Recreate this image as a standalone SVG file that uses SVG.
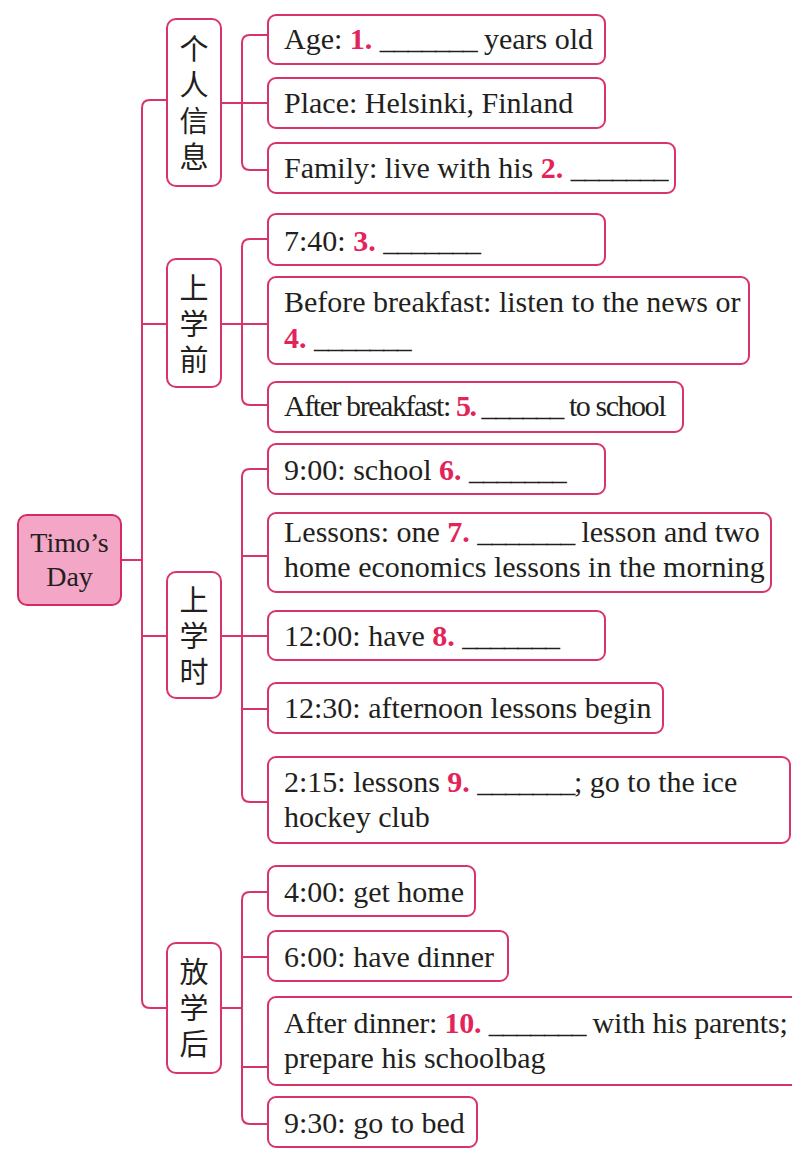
<svg xmlns="http://www.w3.org/2000/svg" width="792" height="1160" viewBox="0 0 792 1160">
<style>
  .ln{fill:none;stroke:#d8336b;stroke-width:2}
  .box{fill:#fff;stroke:#d8336b;stroke-width:2}
  .cat{fill:#fff;stroke:#d8336b;stroke-width:2}
  .root{fill:#f3a6c6;stroke:#d42c62;stroke-width:2}
  .t{font-family:"Liberation Serif","Times New Roman",serif;font-size:30px;fill:#231f20}
  .rt{font-family:"Liberation Serif","Times New Roman",serif;font-size:28px;fill:#231f20;text-anchor:middle}
  .n{font-weight:bold;fill:#e3245a}
  .b{letter-spacing:-1.2px}
  .tight{letter-spacing:-1.45px}
  .c{font-family:"Noto Sans CJK SC","Noto Sans CJK JP",sans-serif;font-size:29px;fill:#231f20;text-anchor:middle;writing-mode:vertical-rl;letter-spacing:7px}
</style>
<rect width="792" height="1160" fill="#fff"/>
<g id="connectors">
  <path class="ln" d="M167,100 H150 Q142,100 142,108 V1000 Q142,1008 150,1008 H167"/>
  <path class="ln" d="M121,560 H142"/>
  <path class="ln" d="M142,324 H167"/>
  <path class="ln" d="M142,636 H167"/>
  <path class="ln" d="M268,35 H250 Q242,35 242,43 V162 Q242,170 250,170 H268"/>
  <path class="ln" d="M221,103 H268"/>
  <path class="ln" d="M268,239 H250 Q242,239 242,247 V397 Q242,405 250,405 H268"/>
  <path class="ln" d="M221,324 H268"/>
  <path class="ln" d="M268,469 H250 Q242,469 242,477 V794 Q242,802 250,802 H268"/>
  <path class="ln" d="M221,636 H268"/>
  <path class="ln" d="M242,556 H268"/>
  <path class="ln" d="M242,709 H268"/>
  <path class="ln" d="M268,892 H250 Q242,892 242,900 V1116 Q242,1124 250,1124 H268"/>
  <path class="ln" d="M221,1008 H242"/>
  <path class="ln" d="M242,957 H268"/>
  <path class="ln" d="M242,1067 H268"/>
</g>
<g id="root">
  <rect class="root" x="18" y="515" width="103" height="90" rx="9"/>
  <text class="rt" x="69.5" y="552">Timo’s</text>
  <text class="rt" x="69.5" y="586">Day</text>
</g>
<g id="cat-personal">
  <rect class="cat" x="167" y="19" width="54" height="167" rx="9"/>
  <text class="c" x="194" y="106">个人信息</text>
</g>
<g id="cat-before">
  <rect class="cat" x="167" y="259" width="54" height="128" rx="9"/>
  <text class="c" x="194" y="327">上学前</text>
</g>
<g id="cat-during">
  <rect class="cat" x="167" y="572" width="54" height="126" rx="9"/>
  <text class="c" x="194" y="639">上学时</text>
</g>
<g id="cat-after">
  <rect class="cat" x="167" y="943" width="54" height="130" rx="9"/>
  <text class="c" x="194" y="1011">放学后</text>
</g>
<g id="leaf-age">
  <rect class="box" x="268" y="15" width="337" height="49" rx="8"/>
  <text class="t" x="284" y="49">Age: <tspan class="n">1.</tspan> <tspan class="b">_______</tspan> years old</text>
</g>
<g id="leaf-place">
  <rect class="box" x="268" y="78" width="337" height="50" rx="8"/>
  <text class="t" x="284" y="113">Place: Helsinki, Finland</text>
</g>
<g id="leaf-family">
  <rect class="box" x="268" y="143" width="407" height="50" rx="8"/>
  <text class="t" x="284" y="178">Family: live with his <tspan class="n">2.</tspan> <tspan class="b">_______</tspan></text>
</g>
<g id="leaf-740">
  <rect class="box" x="268" y="214" width="337" height="51" rx="8"/>
  <text class="t" x="284" y="251">7:40: <tspan class="n">3.</tspan> <tspan class="b">_______</tspan></text>
</g>
<g id="leaf-before-breakfast">
  <rect class="box" x="268" y="277" width="481" height="87" rx="8"/>
  <text class="t" x="284" y="312">Before breakfast: listen to the news or</text>
  <text class="t" x="284" y="348"><tspan class="n">4.</tspan> <tspan class="b">_______</tspan></text>
</g>
<g id="leaf-after-breakfast">
  <rect class="box" x="268" y="382" width="415" height="50" rx="8"/>
  <text class="t tight" x="284" y="416">After breakfast: <tspan class="n">5.</tspan> ______ to school</text>
</g>
<g id="leaf-900">
  <rect class="box" x="268" y="444" width="337" height="50" rx="8"/>
  <text class="t" x="284" y="480">9:00: school <tspan class="n">6.</tspan> <tspan class="b">_______</tspan></text>
</g>
<g id="leaf-lessons">
  <rect class="box" x="268" y="513" width="503" height="79" rx="8"/>
  <text class="t" x="284" y="542">Lessons: one <tspan class="n">7.</tspan> <tspan class="b">_______</tspan> lesson and two</text>
  <text class="t" x="284" y="577">home economics lessons in the morning</text>
</g>
<g id="leaf-1200">
  <rect class="box" x="268" y="611" width="337" height="49" rx="8"/>
  <text class="t" x="284" y="646">12:00: have <tspan class="n">8.</tspan> <tspan class="b">_______</tspan></text>
</g>
<g id="leaf-1230">
  <rect class="box" x="268" y="683" width="395" height="50" rx="8"/>
  <text class="t" x="284" y="718">12:30: afternoon lessons begin</text>
</g>
<g id="leaf-215">
  <rect class="box" x="268" y="757" width="522" height="86" rx="8"/>
  <text class="t" x="284" y="792">2:15: lessons <tspan class="n">9.</tspan> <tspan class="b">_______</tspan>; go to the ice</text>
  <text class="t" x="284" y="827">hockey club</text>
</g>
<g id="leaf-400">
  <rect class="box" x="268" y="866" width="207" height="50" rx="8"/>
  <text class="t" x="284" y="902">4:00: get home</text>
</g>
<g id="leaf-600">
  <rect class="box" x="268" y="931" width="240" height="50" rx="8"/>
  <text class="t" x="284" y="967">6:00: have dinner</text>
</g>
<g id="leaf-after-dinner">
  <rect class="box" x="268" y="997" width="532" height="88" rx="8"/>
  <text class="t" x="284" y="1033" style="letter-spacing:-0.2px">After dinner: <tspan class="n">10.</tspan> <tspan class="b">_______</tspan> with his parents;</text>
  <text class="t" x="284" y="1068">prepare his schoolbag</text>
</g>
<g id="leaf-930">
  <rect class="box" x="268" y="1097" width="209" height="50" rx="8"/>
  <text class="t" x="284" y="1133">9:30: go to bed</text>
</g>
</svg>
